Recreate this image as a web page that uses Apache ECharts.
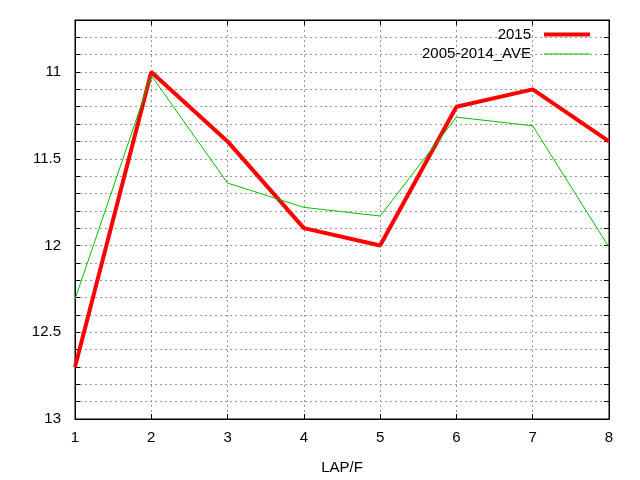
<!DOCTYPE html>
<html>
<head>
<meta charset="utf-8">
<script src="https://cdn.jsdelivr.net/npm/echarts@6/dist/echarts.min.js"></script>
<style>
  html, body { margin: 0; padding: 0; background: #fff; }
  #chart { width: 640px; height: 480px; }
</style>
</head>
<body>
<div id="chart"></div>
<script>
// data
const laps = [1, 2, 3, 4, 5, 6, 7, 8]
const year2015 = [12.7, 11.0, 11.4, 11.9, 12.0, 11.2, 11.1, 11.4]
const ave0514 = [12.31, 11.02, 11.64, 11.78, 11.83, 11.26, 11.31, 12.01]
const seriesNames = ['2015', '2005-2014_AVE']

const font = 'Liberation Sans, Arial, sans-serif'
const fontSize = 15

const pairs = (vals) => laps.map((x, i) => [x, vals[i]])

// labels only on the 0.5 steps, grid on every 0.1
const yLabel = (v) => {
  const h = v * 2
  if (Math.abs(h - Math.round(h)) < 1e-6) {
    return String(Math.round(h) / 2)
  }
  return ''
}

const yBase = {
  type: 'value',
  inverse: true,
  min: 10.7,
  max: 13,
  interval: 0.1,
  axisLine: { show: true, lineStyle: { color: '#000', width: 1 } },
  axisTick: { show: true, inside: true, length: 5, lineStyle: { color: '#000' } }
}

// one legend per row so each key line can have its own thickness
const legendRow = (name, top, height) => ({
  orient: 'vertical',
  right: 45,
  top: top,
  align: 'right',
  icon: 'rect',
  itemWidth: 46,
  itemHeight: height,
  textStyle: { fontFamily: font, fontSize: fontSize, color: '#000', padding: [0, 8, 0, 0] },
  data: [name]
})

const chart = echarts.init(document.getElementById('chart'))
chart.setOption({
  animation: false,
  backgroundColor: '#fff',
  textStyle: { fontFamily: font },
  grid: {
    left: 75, right: 31, top: 20, bottom: 61,
    show: true, borderColor: '#000', borderWidth: 1
  },
  legend: [
    legendRow(seriesNames[0], 22, 4),
    legendRow(seriesNames[1], 41.5, 1)
  ],
  xAxis: [{
    type: 'value',
    min: 1,
    max: 8,
    interval: 1,
    name: 'LAP/F',
    nameLocation: 'middle',
    nameGap: 41,
    nameTextStyle: { fontFamily: font, fontSize: fontSize, color: '#000' },
    axisLine: { show: true, onZero: false, lineStyle: { color: '#000' } },
    axisTick: { show: true, inside: true, length: 5, lineStyle: { color: '#000' } },
    axisLabel: { fontFamily: font, fontSize: fontSize, color: '#000', margin: 11 },
    splitLine: { show: true, lineStyle: { color: '#999', type: [2, 3], width: 1 } }
  }, {
    type: 'value',
    position: 'top',
    min: 1,
    max: 8,
    interval: 1,
    axisLine: { show: true, onZero: false, lineStyle: { color: '#000' } },
    axisTick: { show: true, inside: true, length: 5, lineStyle: { color: '#000' } },
    axisLabel: { show: false },
    splitLine: { show: false }
  }],
  yAxis: [Object.assign({}, yBase, {
    position: 'left',
    axisLabel: { fontFamily: font, fontSize: fontSize, color: '#000', margin: 14, formatter: yLabel },
    splitLine: { show: true, lineStyle: { color: '#999', type: [2, 3], width: 1 } }
  }), Object.assign({}, yBase, {
    position: 'right',
    axisLabel: { show: false },
    splitLine: { show: false }
  })],
  series: [{
    name: seriesNames[0],
    type: 'line',
    symbol: 'none',
    z: 3,
    lineStyle: { color: '#ff0000', width: 4 },
    itemStyle: { color: '#ff0000' },
    data: pairs(year2015)
  }, {
    name: seriesNames[1],
    type: 'line',
    symbol: 'none',
    z: 4,
    lineStyle: { color: '#00c000', width: 1 },
    itemStyle: { color: '#00c000' },
    data: pairs(ave0514)
  }]
})
</script>
</body>
</html>
